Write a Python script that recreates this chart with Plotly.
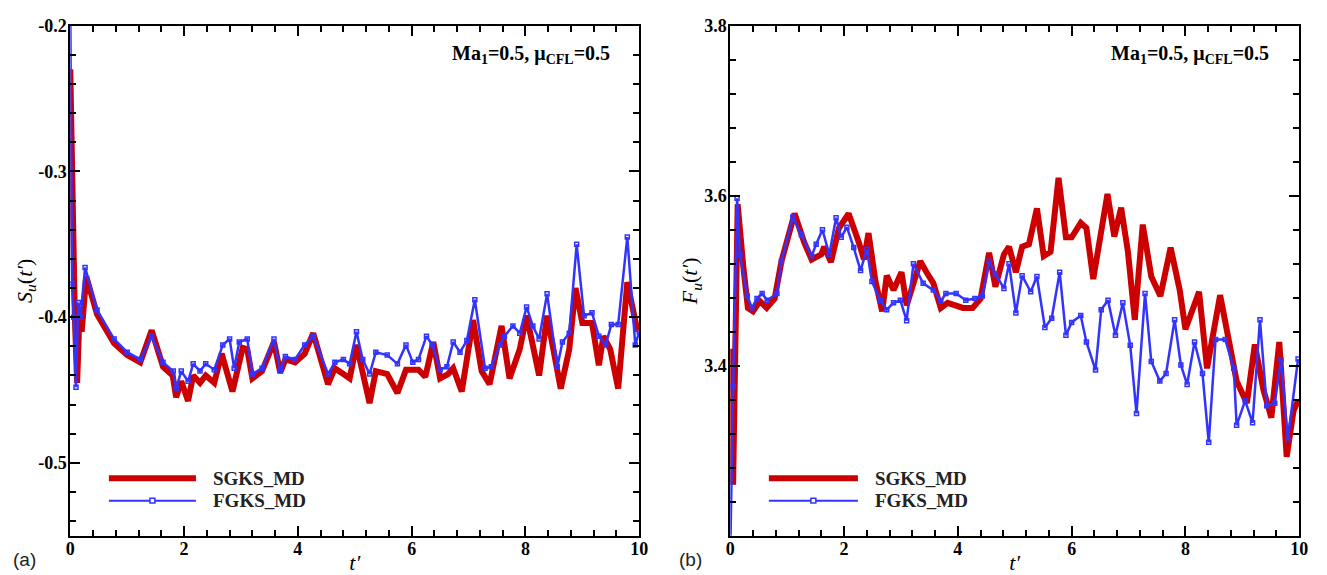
import plotly.graph_objects as go

# ---------------- data ----------------
# panel (a): S_u(t')
t_a_sgks = [0.0, 0.04, 0.08, 0.12, 0.16, 0.2, 0.28, 0.47, 0.77, 1.0, 1.23, 1.43, 1.63, 1.8, 1.86,
            1.95, 2.07, 2.16, 2.28, 2.38, 2.53, 2.66, 2.85, 3.03, 3.11, 3.2, 3.37, 3.58, 3.69, 3.78,
            3.95, 4.12, 4.27, 4.53, 4.65, 4.8, 4.91, 5.03, 5.14, 5.26, 5.37, 5.57, 5.75, 5.9, 6.12,
            6.24, 6.38, 6.5, 6.64, 6.73, 6.88, 7.08, 7.23, 7.37, 7.58, 7.72, 7.9, 8.02, 8.24, 8.38,
            8.62, 8.77, 8.88, 9.0, 9.17, 9.29, 9.37, 9.49, 9.63, 9.79, 9.97]
s_a_sgks = [-0.23, -0.35, -0.40, -0.445, -0.40, -0.41, -0.372, -0.398, -0.418, -0.426, -0.431, -0.409,
            -0.434, -0.44, -0.455, -0.444, -0.4575, -0.44, -0.445, -0.44, -0.445, -0.425, -0.451,
            -0.421, -0.422, -0.442, -0.437, -0.417, -0.438, -0.429, -0.431, -0.425, -0.411, -0.446,
            -0.435, -0.439, -0.442, -0.419, -0.44, -0.459, -0.437, -0.439, -0.452, -0.436, -0.436,
            -0.441, -0.417, -0.442, -0.439, -0.435, -0.451, -0.402, -0.437, -0.446, -0.406, -0.442,
            -0.422, -0.399, -0.44, -0.399, -0.449, -0.422, -0.38, -0.404, -0.404, -0.433, -0.413,
            -0.422, -0.449, -0.376, -0.41]

t_a_fgks = [0.0, 0.03, 0.06, 0.1, 0.14, 0.18, 0.26, 0.47, 0.77, 1.0, 1.23, 1.43, 1.63, 1.81, 1.86,
            1.95, 2.07, 2.16, 2.28, 2.38, 2.53, 2.68, 2.8, 2.88, 2.97, 3.11, 3.2, 3.37, 3.58, 3.69,
            3.78, 3.95, 4.12, 4.27, 4.53, 4.65, 4.8, 4.91, 5.03, 5.14, 5.26, 5.37, 5.57, 5.75, 5.9,
            6.02, 6.12, 6.26, 6.36, 6.5, 6.62, 6.73, 6.85, 6.97, 7.11, 7.29, 7.4, 7.55, 7.63, 7.78,
            7.9, 8.02, 8.13, 8.24, 8.38, 8.56, 8.65, 8.77, 8.9, 9.03, 9.17, 9.29, 9.41, 9.51, 9.63,
            9.79, 9.93, 10.0]
s_a_fgks = [-0.19, -0.377, -0.40, -0.448, -0.39, -0.40, -0.366, -0.395, -0.415, -0.424, -0.429, -0.413,
            -0.431, -0.437, -0.449, -0.437, -0.444, -0.432, -0.437, -0.432, -0.436, -0.419, -0.415,
            -0.435, -0.417, -0.415, -0.439, -0.435, -0.415, -0.437, -0.427, -0.429, -0.419, -0.413,
            -0.439, -0.431, -0.429, -0.432, -0.41, -0.429, -0.439, -0.424, -0.426, -0.432, -0.419,
            -0.431, -0.429, -0.413, -0.419, -0.436, -0.434, -0.417, -0.424, -0.416, -0.388, -0.435,
            -0.434, -0.419, -0.413, -0.406, -0.411, -0.393, -0.406, -0.415, -0.384, -0.434, -0.417,
            -0.411, -0.35, -0.399, -0.397, -0.413, -0.419, -0.405, -0.405, -0.345, -0.419, -0.41]

# panel (b): F_u(t')
t_b_sgks = [0.0, 0.05, 0.13, 0.17, 0.23, 0.31, 0.4, 0.52, 0.64, 0.78, 0.9, 1.13, 1.3, 1.43, 1.6, 1.65,
            1.77, 1.91, 2.08, 2.26, 2.35, 2.43, 2.55, 2.67, 2.75, 2.87, 3.01, 3.1, 3.34, 3.45, 3.57,
            3.7, 3.82, 4.09, 4.26, 4.4, 4.55, 4.66, 4.81, 4.9, 5.02, 5.13, 5.25, 5.39, 5.51, 5.63,
            5.77, 5.9, 6.0, 6.16, 6.26, 6.38, 6.5, 6.63, 6.75, 6.87, 6.99, 7.11, 7.25, 7.4, 7.56,
            7.74, 7.9, 8.0, 8.24, 8.38, 8.61, 8.78, 8.9, 9.08, 9.22, 9.37, 9.51, 9.65, 9.78, 9.9, 9.98]
f_b_sgks = [3.42, 3.26, 3.59, 3.557, 3.516, 3.468, 3.464, 3.476, 3.468, 3.479, 3.523, 3.579, 3.545,
            3.525, 3.531, 3.54, 3.522, 3.562, 3.579, 3.545, 3.525, 3.556, 3.5, 3.464, 3.506, 3.489,
            3.51, 3.471, 3.523, 3.51, 3.497, 3.468, 3.474, 3.468, 3.468, 3.479, 3.533, 3.493, 3.531,
            3.54, 3.51, 3.54, 3.543, 3.585, 3.529, 3.534, 3.621, 3.551, 3.551, 3.568, 3.562, 3.502,
            3.551, 3.602, 3.552, 3.586, 3.534, 3.454, 3.566, 3.505, 3.482, 3.539, 3.489, 3.443, 3.487,
            3.397, 3.483, 3.42, 3.382, 3.356, 3.425, 3.372, 3.339, 3.428, 3.293, 3.347, 3.359]

t_b_fgks = [0.0, 0.05, 0.12, 0.17, 0.3, 0.38, 0.47, 0.56, 0.65, 0.82, 0.9, 1.1, 1.25, 1.43, 1.51, 1.62,
            1.74, 1.86, 1.95, 2.05, 2.17, 2.29, 2.4, 2.49, 2.64, 2.75, 2.87, 2.99, 3.1, 3.22, 3.39,
            3.57, 3.7, 3.79, 3.97, 4.14, 4.3, 4.43, 4.55, 4.66, 4.81, 4.9, 5.02, 5.13, 5.28, 5.39,
            5.53, 5.65, 5.79, 5.9, 6.0, 6.16, 6.26, 6.42, 6.52, 6.64, 6.77, 6.9, 7.03, 7.14, 7.29,
            7.4, 7.55, 7.66, 7.81, 7.92, 8.03, 8.16, 8.3, 8.41, 8.53, 8.7, 8.85, 8.9, 9.05, 9.18,
            9.31, 9.43, 9.57, 9.68, 9.8, 9.98]
f_b_fgks = [3.18, 3.376, 3.597, 3.531, 3.482, 3.468, 3.479, 3.485, 3.477, 3.485, 3.523, 3.575, 3.554,
            3.529, 3.543, 3.56, 3.531, 3.574, 3.551, 3.563, 3.539, 3.512, 3.537, 3.499, 3.477, 3.466,
            3.474, 3.477, 3.453, 3.52, 3.497, 3.489, 3.476, 3.485, 3.485, 3.477, 3.479, 3.482, 3.523,
            3.508, 3.491, 3.52, 3.462, 3.506, 3.487, 3.505, 3.445, 3.456, 3.51, 3.436, 3.451, 3.459,
            3.428, 3.395, 3.466, 3.477, 3.436, 3.474, 3.424, 3.344, 3.485, 3.405, 3.382, 3.391, 3.454,
            3.401, 3.378, 3.428, 3.391, 3.31, 3.431, 3.431, 3.397, 3.33, 3.359, 3.333, 3.454, 3.353,
            3.356, 3.407, 3.313, 3.408]

x_ticks = [0, 2, 4, 6, 8, 10]
x_ticktext = ["0", "2", "4", "6", "8", "10"]
ya_ticks = [-0.5, -0.4, -0.3, -0.2]
ya_ticktext = ["-0.5", "-0.4", "-0.3", "-0.2"]
yb_ticks = [3.4, 3.6, 3.8]
yb_ticktext = ["3.4", "3.6", "3.8"]
series_names = ["SGKS_MD", "FGKS_MD"]

# ---------------- styling ----------------
W, H = 1327, 575
RED = "#cc0000"
BLUE = "#3333ff"
SERIF = "Liberation Serif, Times New Roman, serif"
SANS = "Liberation Sans, Arial, sans-serif"

def px_x(p):
    return p / W

def px_y(p):
    return 1 - p / H

dom_a = [px_x(66), px_x(641)]
dom_b = [px_x(733), px_x(1308)]
dom_y = [px_y(538), px_y(16)]

fig = go.Figure()

red_line = dict(color=RED, width=6)
blue_line = dict(color=BLUE, width=2.5)
blue_marker = dict(symbol="square-open", size=4, color=BLUE, line=dict(color=BLUE, width=1.5))

fig.add_trace(go.Scatter(x=t_a_sgks, y=s_a_sgks, mode="lines", line=red_line,
                         name=series_names[0], xaxis="x", yaxis="y", showlegend=False))
fig.add_trace(go.Scatter(x=t_a_fgks, y=s_a_fgks, mode="lines+markers", line=blue_line,
                         marker=blue_marker, name=series_names[1], xaxis="x", yaxis="y",
                         showlegend=False))
fig.add_trace(go.Scatter(x=t_b_sgks, y=f_b_sgks, mode="lines", line=red_line,
                         name=series_names[0], xaxis="x2", yaxis="y2", showlegend=False))
fig.add_trace(go.Scatter(x=t_b_fgks, y=f_b_fgks, mode="lines+markers", line=blue_line,
                         marker=blue_marker, name=series_names[1], xaxis="x2", yaxis="y2",
                         showlegend=False))

tickfont = dict(family=SERIF, size=18, color="black")
titlefont = dict(family=SERIF, size=22, color="black")

def bold(lst):
    return ["<b>%s</b>" % s for s in lst]

def xaxis(domain, anchor):
    return dict(domain=domain, anchor=anchor, range=[0, 10], tickmode="array",
                tickvals=x_ticks, ticktext=bold(x_ticktext), ticks="inside", ticklen=10,
                tickwidth=1.5, tickcolor="black", showline=True, linecolor="black",
                linewidth=2, mirror="ticks", showgrid=False, zeroline=False,
                tickfont=tickfont, ticklabelstandoff=-4,
                title=dict(text="<i>t′</i>", font=titlefont, standoff=0),
                minor=dict(tickmode="linear", tick0=0, dtick=0.4, ticks="inside",
                           ticklen=6, tickwidth=1.5, tickcolor="black", showgrid=False))

def yaxis(anchor, rng, tv, tt, mtick0, mdtick, title):
    return dict(domain=dom_y, anchor=anchor, range=rng, tickmode="array", tickvals=tv,
                ticktext=bold(tt), ticks="inside", ticklen=10, tickwidth=1.5, tickcolor="black",
                showline=True, linecolor="black", linewidth=2, mirror="ticks",
                showgrid=False, zeroline=False, tickfont=tickfont, ticklabelstandoff=-2,
                title=dict(text=title, font=titlefont, standoff=0),
                minor=dict(tickmode="linear", tick0=mtick0, dtick=mdtick, ticks="inside",
                           ticklen=6, tickwidth=1.5, tickcolor="black", showgrid=False))

fig.update_layout(
    width=W, height=H,
    margin=dict(l=0, r=0, t=0, b=0),
    paper_bgcolor="white", plot_bgcolor="white",
    font=dict(family=SERIF, size=18, color="black"),
    showlegend=False,
    xaxis=xaxis(dom_a, "y"),
    yaxis=yaxis("x", [-0.55, -0.2], ya_ticks, ya_ticktext, -0.2, 0.02,
                "<i>S</i><sub><i>u</i></sub>(<i>t′</i>)"),
    xaxis2=xaxis(dom_b, "y2"),
    yaxis2=yaxis("x2", [3.2, 3.8], yb_ticks, yb_ticktext, 3.2, 0.04,
                 "<i>F</i><sub><i>u</i></sub>(<i>t′</i>)"),
)

ann = []
# condition labels
cond = "<b>Ma<sub>1</sub>=0.5, μ<sub>CFL</sub>=0.5</b>"
for xr in (613, 1280):
    ann.append(dict(x=px_x(xr), y=px_y(46), xref="paper", yref="paper", text=cond,
                    showarrow=False, xanchor="right", yanchor="middle",
                    font=dict(family=SERIF, size=20, color="black")))
# panel labels
for xl, lab in ((6, "(a)"), (679, "(b)")):
    ann.append(dict(x=px_x(xl), y=px_y(562), xref="paper", yref="paper", text=lab,
                    showarrow=False, xanchor="left", yanchor="middle",
                    font=dict(family=SANS, size=19, color="#222222")))

# legends (drawn by hand, as in the source figure)
shapes = []
for x0, x1, xt in ((105, 193, 208), (772, 862, 877)):
    shapes.append(dict(type="line", xref="paper", yref="paper", x0=px_x(x0), x1=px_x(x1),
                       y0=px_y(479), y1=px_y(479), line=dict(color=RED, width=6)))
    shapes.append(dict(type="line", xref="paper", yref="paper", x0=px_x(x0), x1=px_x(x1),
                       y0=px_y(502), y1=px_y(502), line=dict(color=BLUE, width=2)))
    xm = (x0 + x1) / 2
    shapes.append(dict(type="rect", xref="paper", yref="paper", x0=px_x(xm - 2.5),
                       x1=px_x(xm + 2.5), y0=px_y(504.5), y1=px_y(499.5),
                       line=dict(color=BLUE, width=1.5), fillcolor="white"))
    for yy, name in ((479, series_names[0]), (502, series_names[1])):
        ann.append(dict(x=px_x(xt), y=px_y(yy), xref="paper", yref="paper",
                        text="<b>%s</b>" % name,
                        showarrow=False, xanchor="left", yanchor="middle",
                        font=dict(family=SERIF, size=19, color="#222222")))

fig.update_layout(annotations=ann, shapes=shapes)
fig.write_html("out.html")
